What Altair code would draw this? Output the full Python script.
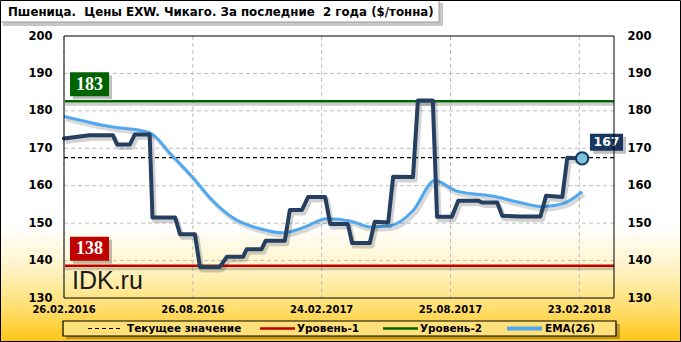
import altair as alt
import pandas as pd
from datetime import date, timedelta

# ---------------- data ----------------
BASE = date(2016, 2, 26)
price_days = [0, 36, 69, 75, 93, 100, 121, 125, 157, 164, 185, 192, 220, 230, 253, 258,
              279, 285, 312, 319, 336, 345, 369, 376, 401, 407, 432, 439, 458, 465, 493,
              500, 521, 527, 548, 557, 585, 591, 612, 619, 645, 673, 681, 704, 711, 732]
price_vals = [172.6, 173.5, 173.5, 171.0, 171.0, 173.7, 173.7, 151.5, 151.5, 147.0, 147.0,
              138.3, 138.3, 141.0, 141.0, 143.0, 143.0, 145.3, 145.3, 153.5, 153.5, 157.0,
              157.0, 149.8, 149.8, 144.7, 144.7, 150.4, 150.2, 162.4, 162.3, 182.8, 182.8,
              151.7, 151.7, 156.0, 156.0, 155.5, 155.5, 152.0, 151.8, 151.8, 157.3, 157.0,
              167.5, 167.3]
ema_days = [0, 65, 121, 150, 182, 206, 239, 277, 309, 338, 371, 404, 432, 461, 493, 524,
            553, 612, 644, 677, 705, 732]
ema_vals = [178.5, 175.8, 174.2, 168.6, 162.2, 156.8, 151.4, 148.5, 147.4, 148.8, 151.2,
            150.6, 149.0, 149.3, 153.3, 161.4, 158.7, 157.0, 155.5, 154.4, 155.2, 158.4]

y_ticks = [130, 140, 150, 160, 170, 180, 190, 200]
grid_values = [140, 150, 160, 170, 180, 190]
x_tick_dates = ["2016-02-26", "2016-08-26", "2017-02-24", "2017-08-25", "2018-02-23"]
x_tick_labels = ["26.02.2016", "26.08.2016", "24.02.2017", "25.08.2017", "23.02.2018"]

level1 = 138.6
level1_label = "138"
level2 = 182.6
level2_label = "183"
current = 167.5
current_label = "167"

title_text = "Пшеница.\u00a0 Цены EXW. Чикаго. За последние\u00a0 2 года ($/тонна)"
legend_labels = ["Текущее значение", "Уровень-1", "Уровень-2", "EMA(26)"]
watermark = "IDK.ru"

# ---------------- frames ----------------
def d2s(d):
    return (BASE + timedelta(days=d)).isoformat()

price_df = pd.DataFrame({"date": [d2s(d) for d in price_days], "v": price_vals})
ema_df = pd.DataFrame({"date": [d2s(d) for d in ema_days], "v": ema_vals})
last_df = price_df.tail(1)
grid_df = pd.DataFrame({"v": grid_values})
tick_df = pd.DataFrame({"v": y_ticks})
xgrid_df = pd.DataFrame({"date": x_tick_dates, "lab": x_tick_labels})
lvl1_df = pd.DataFrame({"v": [level1], "t": [level1_label]})
lvl2_df = pd.DataFrame({"v": [level2], "t": [level2_label]})
cur_df = pd.DataFrame({"v": [current], "t": [current_label]})
one = pd.DataFrame({"k": [0]})

W, H = 550, 262
xs = alt.Scale(type="utc", domain=[alt.DateTime(year=2016, month=2, date=26, utc=True),
                                   alt.DateTime(year=2018, month=4, date=13, utc=True)])
ys = alt.Scale(domain=[130, 200], nice=False, zero=False)

BOLD = "DejaVu Sans"
NAVY = "#243F60"
EMA_C = "#4FA8F0"
RED = "#C00000"
GREEN = "#006400"

def X(ax=None):
    return alt.X("date:T", scale=xs, axis=ax)

def Y(ax=None):
    return alt.Y("v:Q", scale=ys, axis=ax)

grad = alt.LinearGradient(
    gradient="linear",
    stops=[alt.GradientStop(color="#FFFFFF", offset=0),
           alt.GradientStop(color="#FFFFFF", offset=0.66),
           alt.GradientStop(color="#FFF4C8", offset=0.78),
           alt.GradientStop(color="#FFDF70", offset=0.9),
           alt.GradientStop(color="#FFC414", offset=1)],
    x1=0, x2=0, y1=0, y2=1)

layers = []
# background
layers.append(alt.Chart(one).mark_rect(fill=grad).encode(
    x=alt.value(-64), x2=alt.value(617), y=alt.value(-36), y2=alt.value(306)))
# title box
layers.append(alt.Chart(one).mark_rect(fill="#000000", opacity=0.22).encode(
    x=alt.value(-61), x2=alt.value(379), y=alt.value(-33), y2=alt.value(-10)))
layers.append(alt.Chart(one).mark_rect(fill="#FFFFFF", stroke="#9A9A9A", strokeWidth=1).encode(
    x=alt.value(-63.5), x2=alt.value(375), y=alt.value(-35.5), y2=alt.value(-14)))
layers.append(alt.Chart(one).mark_text(text=title_text, align="left", baseline="middle",
                                        font=BOLD, fontWeight="bold", fontSize=11.8,
                                        color="#000000").encode(
    x=alt.value(-56), y=alt.value(-24)))

# grid (horizontal) with left axis
axis_common = dict(ticks=False, domain=False, grid=False, labelFont=BOLD,
                   labelFontWeight="bold", labelFontSize=11.5, labelColor="#000000",
                   values=y_ticks, title=None, zindex=1)
layers.append(alt.Chart(grid_df).mark_rule(color="#BEBEBE", strokeDash=[4, 3], strokeWidth=1).encode(
    y=Y(alt.Axis(orient="left", labelPadding=12, **axis_common))))
layers.append(alt.Chart(tick_df).mark_rule(opacity=0).encode(
    y=Y(alt.Axis(orient="right", labelPadding=13, labelAlign="left", **axis_common))))
# vertical grid
layers.append(alt.Chart(xgrid_df).mark_rule(color="#BEBEBE", strokeDash=[4, 3], strokeWidth=1).encode(
    x=X()))
# x tick labels
layers.append(alt.Chart(xgrid_df).mark_text(font=BOLD, fontWeight="bold", fontSize=10,
                                            color="#000000", baseline="middle", align="center").encode(
    x=X(), y=alt.value(H + 12), text="lab:N"))

# level lines
for df, col in [(lvl1_df, RED), (lvl2_df, GREEN)]:
    layers.append(alt.Chart(df).mark_rule(color="#000000", opacity=0.2, strokeWidth=3, yOffset=3).encode(
        y=Y(), x=alt.value(1), x2=alt.value(W)))
    layers.append(alt.Chart(df).mark_rule(color=col, strokeWidth=2.5).encode(
        y=Y(), x=alt.value(1), x2=alt.value(W)))
layers.append(alt.Chart(cur_df).mark_rule(color="#000000", strokeDash=[4, 3], strokeWidth=1.2).encode(
    y=Y(), x=alt.value(0), x2=alt.value(W)))

# EMA
layers.append(alt.Chart(ema_df).mark_line(color="#000000", opacity=0.15, strokeWidth=4,
                                          xOffset=2, yOffset=3, interpolate="monotone").encode(x=X(), y=Y()))
layers.append(alt.Chart(ema_df).mark_line(color=EMA_C, strokeWidth=3, interpolate="monotone").encode(
    x=X(), y=Y()))
# Price
layers.append(alt.Chart(price_df).mark_line(color="#000000", opacity=0.18, strokeWidth=5,
                                            xOffset=2, yOffset=3, strokeJoin="round").encode(x=X(), y=Y()))
layers.append(alt.Chart(price_df).mark_line(color=NAVY, strokeWidth=4, strokeJoin="round",
                                            strokeCap="round").encode(x=X(), y=Y()))
layers.append(alt.Chart(last_df).mark_circle(size=150, color="#7EC4DE", stroke="#17375E",
                                             strokeWidth=2, opacity=1).encode(x=X(), y=Y()))

# level label boxes
for df, col, fnt in [(lvl2_df, GREEN, "Liberation Serif"), (lvl1_df, RED, "Liberation Serif")]:
    layers.append(alt.Chart(df).mark_rect(fill="#000000", opacity=0.25, yOffset=-26, y2Offset=-2).encode(
        y=Y(), y2="v", x=alt.value(9), x2=alt.value(48)))
    layers.append(alt.Chart(df).mark_rect(fill=col, yOffset=-29, y2Offset=-5).encode(
        y=Y(), y2="v", x=alt.value(6), x2=alt.value(45)))
    layers.append(alt.Chart(df).mark_text(font=fnt, fontWeight="bold", fontSize=18, color="#FFFFFF",
                                          baseline="middle", yOffset=-16.5).encode(
        y=Y(), x=alt.value(25.5), text="t:N"))
# current label box
layers.append(alt.Chart(cur_df).mark_rect(fill="#000000", opacity=0.25, yOffset=-21, y2Offset=-4).encode(
    y=Y(), y2="v", x=alt.value(529), x2=alt.value(562)))
layers.append(alt.Chart(cur_df).mark_rect(fill="#17375E", yOffset=-24, y2Offset=-7).encode(
    y=Y(), y2="v", x=alt.value(526), x2=alt.value(559)))
layers.append(alt.Chart(cur_df).mark_text(font=BOLD, fontWeight="bold", fontSize=12.5, color="#FFFFFF",
                                          baseline="middle", yOffset=-15.5).encode(
    y=Y(), x=alt.value(542.5), text="t:N"))

# watermark
layers.append(alt.Chart(one).mark_text(text=watermark, font="Liberation Sans", fontSize=25,
                                       align="left", baseline="alphabetic", color="#1A1A1A").encode(
    x=alt.value(8), y=alt.value(253)))

# plot border
layers.append(alt.Chart(one).mark_rect(fillOpacity=0, stroke="#000000", strokeWidth=1).encode(
    x=alt.value(0), x2=alt.value(W), y=alt.value(0), y2=alt.value(H)))

# legend
layers.append(alt.Chart(one).mark_rect(fill="#000000", opacity=0.25).encode(
    x=alt.value(2), x2=alt.value(556), y=alt.value(288), y2=alt.value(303)))
layers.append(alt.Chart(one).mark_rect(fill="#FFE07A", stroke="#000000", strokeWidth=1.2).encode(
    x=alt.value(-1), x2=alt.value(552), y=alt.value(285), y2=alt.value(300)))
leg_items = [
    (24, 57, "#000000", 1.2, [4, 3], 63, legend_labels[0]),
    (196, 231, RED, 2.5, None, 233, legend_labels[1]),
    (319, 354, GREEN, 2.5, None, 356, legend_labels[2]),
    (443, 478, EMA_C, 4, None, 481, legend_labels[3]),
]
for x1, x2, col, sw, dash, tx, label in leg_items:
    kw = dict(color=col, strokeWidth=sw)
    if dash:
        kw["strokeDash"] = dash
    layers.append(alt.Chart(one).mark_rule(**kw).encode(
        x=alt.value(x1), x2=alt.value(x2), y=alt.value(292.5)))
    layers.append(alt.Chart(one).mark_text(text=label, align="left", baseline="middle", font=BOLD,
                                           fontWeight="bold", fontSize=10.5, color="#000000").encode(
        x=alt.value(tx), y=alt.value(293)))

# outer border
layers.append(alt.Chart(one).mark_rect(fillOpacity=0, stroke="#000000", strokeWidth=1).encode(
    x=alt.value(-63.5), x2=alt.value(616.5), y=alt.value(-35.5), y2=alt.value(305.5)))

chart = alt.layer(*layers).resolve_axis(y="independent").properties(
    width=W, height=H,
    autosize=alt.AutoSizeParams(type="none"),
    padding={"left": 64, "top": 36, "right": 67, "bottom": 44},
    background="#FFFFFF",
).configure_view(stroke=None)

chart.save("out.html", embed_options={"renderer": "svg", "actions": False})
